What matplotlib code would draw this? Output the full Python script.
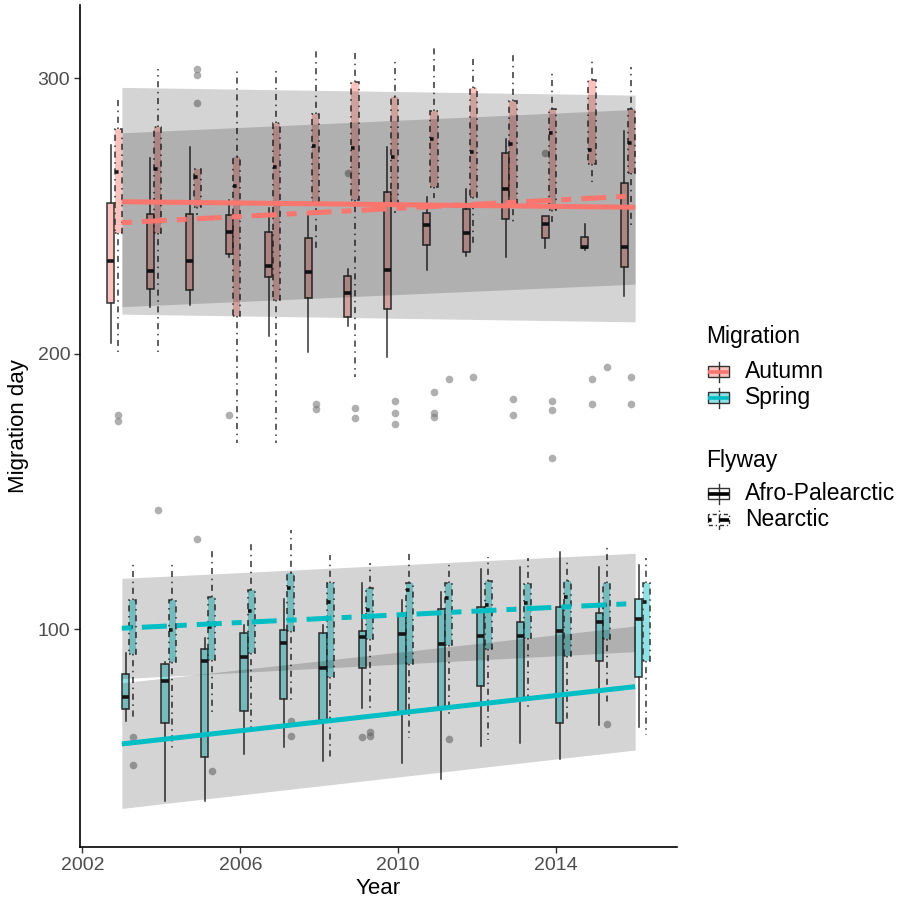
import matplotlib
matplotlib.use("Agg")
import matplotlib.pyplot as plt
from matplotlib.colors import to_rgba
from matplotlib.patches import Rectangle

plt.rcParams['font.family'] = ['Liberation Sans', 'DejaVu Sans']

# --- data ---
years = list(range(2003, 2017))

# each list: whisker low, Q1, median, Q3, whisker high (one entry per year)
aut_afro = [
    [203.7, 218.4, 233.6, 254.7, 275.7], [216.8, 223.3, 230.1, 250.6, 270.8],
    [217.6, 223.0, 233.6, 250.6, 274.8], [234.9, 236.0, 244.0, 250.2, 255.7],
    [206.4, 227.6, 231.8, 244.0, 252.7], [200.7, 220.0, 229.7, 241.8, 250.9],
    [210.0, 213.4, 221.8, 228.1, 230.6], [198.8, 216.0, 230.2, 258.6, 274.9],
    [230.3, 239.3, 246.6, 250.9, 256.7], [235.3, 236.7, 243.8, 252.3, 259.7],
    [234.9, 248.8, 259.7, 272.9, 277.7], [238.2, 241.8, 247.0, 249.9, 249.9],
    [237.4, 238.2, 238.8, 242.2, 246.9], [220.9, 231.5, 238.5, 261.8, 280.9],
]
aut_near = [
    [200.7, 243.6, 266.0, 281.4, 293.2], [200.7, 243.6, 266.9, 282.3, 303.1],
    [250.3, 253.3, 264.0, 266.9, 266.9], [167.6, 213.6, 260.8, 271.4, 303.9],
    [167.6, 219.4, 267.8, 283.8, 303.5], [238.2, 255.1, 275.3, 286.9, 310.2],
    [191.6, 255.7, 274.5, 298.5, 310.4], [250.9, 254.0, 271.4, 293.0, 306.9],
    [256.3, 260.5, 277.9, 288.0, 311.4], [239.4, 256.7, 273.0, 296.5, 308.3],
    [247.0, 254.7, 275.9, 291.6, 309.0], [247.8, 252.1, 279.9, 288.8, 302.9],
    [262.4, 268.8, 273.9, 299.1, 307.7], [245.4, 265.4, 276.5, 288.7, 303.9],
]
spr_afro = [
    [66.7, 71.0, 75.4, 83.6, 91.4], [37.7, 66.0, 81.2, 87.3, 88.1],
    [37.7, 53.4, 88.5, 92.6, 96.6], [54.6, 70.3, 89.7, 98.7, 101.5],
    [57.3, 74.5, 95.0, 99.6, 110.8], [52.2, 67.0, 85.7, 98.5, 101.5],
    [71.2, 85.7, 97.0, 99.4, 116.6], [51.5, 69.4, 98.1, 105.4, 110.5],
    [45.6, 71.8, 94.6, 107.3, 113.5], [57.6, 79.3, 97.6, 108.1, 121.7],
    [58.7, 75.1, 97.6, 102.7, 122.6], [52.7, 65.8, 99.4, 107.9, 128.1],
    [65.2, 88.5, 102.7, 105.9, 122.4], [64.5, 82.7, 103.5, 110.8, 123.2],
]
spr_near = [
    [67.6, 90.8, 100.8, 110.5, 124.4], [55.5, 87.9, 99.6, 110.5, 124.4],
    [69.1, 88.7, 100.8, 111.7, 128.9], [64.5, 91.4, 106.5, 114.2, 131.7],
    [73.6, 99.4, 114.8, 120.4, 135.9], [53.6, 82.7, 109.9, 116.8, 126.9],
    [70.6, 96.3, 106.9, 114.8, 124.1], [60.3, 87.3, 114.2, 116.8, 128.7],
    [67.6, 94.2, 111.1, 116.8, 123.2], [59.7, 92.6, 108.7, 117.5, 126.2],
    [71.8, 96.6, 109.5, 116.2, 125.7], [67.0, 90.2, 111.5, 117.5, 125.7],
    [73.0, 96.4, 108.7, 116.8, 130.5], [61.5, 88.5, 109.9, 116.6, 125.7],
]

# outliers per group, keyed by year
aut_afro_out = {2006: [177.7], 2009: [265.5], 2014: [272.9]}
aut_near_out = {2003: [177.7, 175.6], 2004: [143.2], 2005: [303.1, 301.1, 291.0, 132.7],
                2008: [181.6, 179.7], 2009: [180.2, 176.7], 2010: [182.6, 178.5, 174.5],
                2011: [186.2, 178.5, 177.1], 2012: [191.6], 2013: [183.6, 177.6],
                2014: [182.6, 179.6, 162.2], 2015: [190.6, 181.6], 2016: [191.6, 181.6]}
spr_afro_out = {2009: [60.7]}
spr_near_out = {2003: [60.7, 50.6], 2005: [48.6], 2007: [66.6, 61.2], 2009: [62.7, 61.2],
                2011: [60.0, 190.6], 2015: [65.5, 195.1]}

# fitted lines and ribbons at 2003 and 2016
fit_x = [2003, 2016]
aut_afro_fit = [255.1, 253.1]
aut_afro_lo = [214.3, 211.5]
aut_afro_hi = [296.6, 293.8]
aut_near_fit = [247.5, 257.2]
aut_near_lo = [217.0, 225.2]
aut_near_hi = [280.1, 288.6]
spr_afro_fit = [58.3, 79.1]
spr_afro_lo = [34.9, 56.1]
spr_afro_hi = [80.5, 101.1]
spr_near_fit = [100.3, 109.3]
spr_near_lo = [82.0, 91.8]
spr_near_hi = [118.4, 127.5]

# --- style ---
C_AUT = "#F8766D"
C_SPR = "#00BFC4"
EDGE = "#333333"
BOX_W = 0.18
OFFSETS = [-0.28, -0.094, 0.094, 0.28]
DOTDASH = (0, (1, 3, 4, 3))
FIT_DASH = (0, (2, 2, 5, 2))


def make_stats(rows, outliers):
    stats = []
    for yr, (lo, q1, med, q3, hi) in zip(years, rows):
        stats.append(dict(whislo=lo, q1=q1, med=med, q3=q3, whishi=hi,
                          fliers=outliers.get(yr, [])))
    return stats


def draw_boxes(ax, rows, outliers, offset, color, ls):
    ax.bxp(make_stats(rows, outliers),
           positions=[y + offset for y in years], widths=BOX_W,
           patch_artist=True, showcaps=False, manage_ticks=False,
           boxprops=dict(facecolor=to_rgba(color, 0.45), edgecolor=EDGE,
                         linewidth=1.1, linestyle=ls),
           whiskerprops=dict(color=EDGE, linewidth=1.1, linestyle=ls),
           medianprops=dict(color="#1a1a1a", linewidth=2.6, linestyle=ls),
           flierprops=dict(marker='o', markerfacecolor='#7a7a7a', markeredgecolor='none',
                           alpha=0.6, markersize=5.5),
           zorder=2)


fig = plt.figure(figsize=(9.13, 9.0), dpi=100)
ax = fig.add_axes([80 / 913, 53 / 900, 597 / 913, 842 / 900])

draw_boxes(ax, aut_afro, aut_afro_out, OFFSETS[0], C_AUT, '-')
draw_boxes(ax, aut_near, aut_near_out, OFFSETS[1], C_AUT, DOTDASH)
draw_boxes(ax, spr_afro, spr_afro_out, OFFSETS[2], C_SPR, '-')
draw_boxes(ax, spr_near, spr_near_out, OFFSETS[3], C_SPR, DOTDASH)

for lo, hi in [(aut_afro_lo, aut_afro_hi), (aut_near_lo, aut_near_hi),
               (spr_afro_lo, spr_afro_hi), (spr_near_lo, spr_near_hi)]:
    ax.fill_between(fit_x, lo, hi, color='black', alpha=0.17, linewidth=0, zorder=3)

ax.plot(fit_x, aut_afro_fit, color=C_AUT, lw=3.6, zorder=4, solid_capstyle='butt')
ax.plot(fit_x, aut_near_fit, color=C_AUT, lw=3.6, ls=FIT_DASH, zorder=4)
ax.plot(fit_x, spr_afro_fit, color=C_SPR, lw=3.6, zorder=4, solid_capstyle='butt')
ax.plot(fit_x, spr_near_fit, color=C_SPR, lw=3.6, ls=FIT_DASH, zorder=4)

ax.set_xlim(2001.94, 2017.06)
ax.set_ylim(20.9, 326.5)
ax.set_xticks([2002, 2006, 2010, 2014])
ax.set_yticks([100, 200, 300])
ax.tick_params(length=4, width=1.0, color=EDGE, labelsize=14, labelcolor='#4d4d4d', pad=3)
for side in ['top', 'right']:
    ax.spines[side].set_visible(False)
for side in ['left', 'bottom']:
    ax.spines[side].set_linewidth(1.2)
    ax.spines[side].set_color('black')
ax.set_xlabel("Year", fontsize=16, labelpad=3)
ax.set_ylabel("Migration day", fontsize=16, labelpad=6)

# --- legend drawn in pixel coordinates ---
lax = fig.add_axes([0, 0, 1, 1])
lax.set_xlim(0, 913)
lax.set_ylim(900, 0)
lax.axis('off')


def key(yc, fill, line_col, ls):
    x0, x1 = 708, 729
    lax.plot([718.5, 718.5], [yc - 10, yc + 10], color=EDGE, lw=1.0, ls=ls)
    lax.add_patch(Rectangle((x0, yc - 5.5), x1 - x0, 11, facecolor=fill,
                            edgecolor=EDGE, lw=1.0, ls=ls))
    lax.plot([x0, x1], [yc, yc], color=line_col, lw=2.6, ls=ls, solid_capstyle='butt')


lax.text(706, 337, "Migration", fontsize=16.5, va='center', ha='left')
key(371.5, to_rgba(C_AUT, 0.45), C_AUT, '-')
lax.text(745, 371.5, "Autumn", fontsize=16.5, va='center', ha='left')
key(397.5, to_rgba(C_SPR, 0.45), C_SPR, '-')
lax.text(745, 397.5, "Spring", fontsize=16.5, va='center', ha='left')

lax.text(706, 461, "Flyway", fontsize=16.5, va='center', ha='left')
key(493.5, 'white', 'black', '-')
lax.text(745, 493.5, "Afro-Palearctic", fontsize=16.5, va='center', ha='left')
key(519.5, 'white', 'black', (0, (1, 2, 3, 2)))
lax.text(745, 519.5, "Nearctic", fontsize=16.5, va='center', ha='left')

fig.savefig("out.png", dpi=100, facecolor='white')
